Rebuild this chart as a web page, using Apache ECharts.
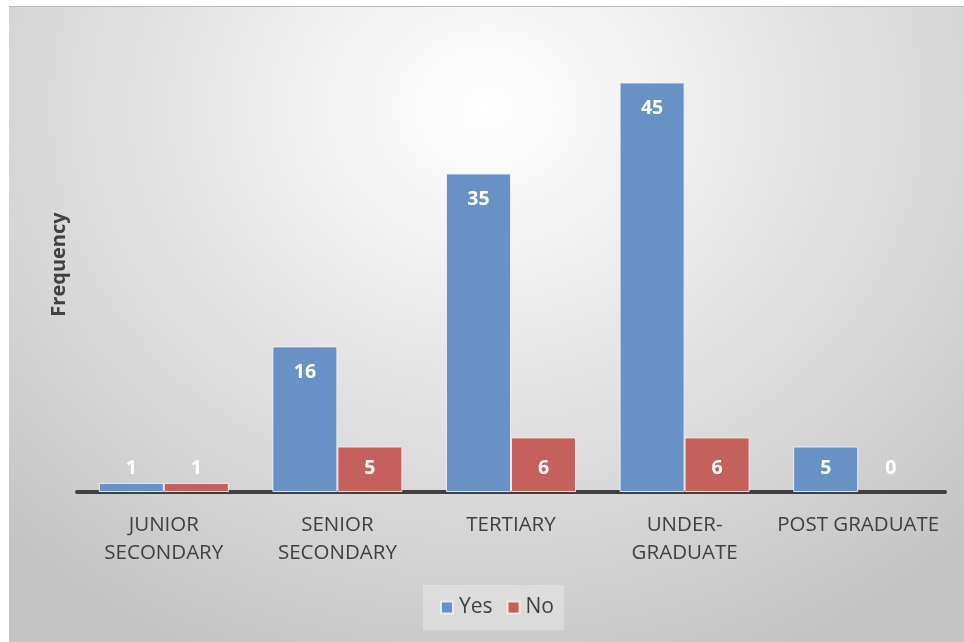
<!DOCTYPE html>
<html>
<head>
<meta charset="utf-8">
<script src="https://cdn.jsdelivr.net/npm/echarts@6/dist/echarts.min.js"></script>
<style>
  html, body { margin: 0; padding: 0; background: #ffffff; }
  #chart {
    position: absolute;
    left: 9px; top: 6px;
    width: 955px; height: 636px;
    border-top: 1px solid #bcbcbc;
    box-sizing: border-box;
    background: radial-gradient(ellipse 72% 95% at 50% 16%, #ffffff 0%, #f3f3f3 22%, #dcdcdc 60%, #c4c4c4 100%);
  }
</style>
</head>
<body>
<div id="chart"></div>
<script>
// Education level vs. response counts
const categories = ['JUNIOR\nSECONDARY', 'SENIOR\nSECONDARY', 'TERTIARY', 'UNDER-\nGRADUATE', 'POST GRADUATE'];
const yesValues = [1, 16, 35, 45, 5];
const noValues = [1, 5, 6, 6, 0];

const FONT = '"Open Sans", Lato, sans-serif';

// Short bars keep their value label near the baseline, tall bars inside the top;
// an empty bar gets no outline so nothing is drawn on the axis
function withLabels(values) {
  return values.map(v => ({
    value: v,
    itemStyle: v === 0 ? { borderWidth: 0 } : undefined,
    label: v < 7
      ? { position: 'insideBottom', distance: 14 }
      : { position: 'insideTop', distance: 16 }
  }));
}

const chart = echarts.init(document.getElementById('chart'), null, { renderer: 'canvas' });

chart.setOption({
  backgroundColor: 'transparent',
  animation: false,
  textStyle: { fontFamily: FONT },
  grid: { left: 68, right: 19, top: 30, bottom: 150, containLabel: false },
  legend: {
    data: ['Yes', 'No'],
    left: 414,
    top: 578,
    itemWidth: 12,
    itemHeight: 12,
    itemGap: 14,
    icon: 'rect',
    padding: [12, 10, 12, 17],
    backgroundColor: 'rgba(255,255,255,0.28)',
    textStyle: { fontFamily: FONT, fontSize: 21, color: '#404040', padding: [0, 0, 0, 1] }
  },
  xAxis: {
    type: 'category',
    data: categories,
    axisLine: { show: true, lineStyle: { color: '#404040', width: 4 } },
    axisTick: { show: false },
    axisLabel: {
      interval: 0,
      margin: 19,
      fontFamily: FONT,
      fontSize: 20.5,
      lineHeight: 28,
      color: '#404040'
    }
  },
  yAxis: {
    type: 'value',
    min: 0,
    max: 50,
    interval: 10,
    name: 'Frequency',
    nameLocation: 'middle',
    nameGap: 8,
    nameRotate: 90,
    nameTextStyle: { fontFamily: FONT, fontSize: 20, fontWeight: 'bold', color: '#404040' },
    axisLine: { show: false },
    axisTick: { show: false },
    axisLabel: { show: false },
    splitLine: { show: false }
  },
  series: [
    {
      name: 'Yes',
      type: 'bar',
      data: withLabels(yesValues),
      barWidth: 65,
      barGap: '0%',
      itemStyle: { color: '#6891c6', borderColor: 'rgba(235,242,252,0.9)', borderWidth: 1 },
      label: { show: true, color: '#ffffff', fontFamily: FONT, fontSize: 19.5, fontWeight: 'bold' }
    },
    {
      name: 'No',
      type: 'bar',
      data: withLabels(noValues),
      barWidth: 65,
      barGap: '0%',
      itemStyle: { color: '#c4615d', borderColor: 'rgba(252,235,235,0.9)', borderWidth: 1 },
      label: { show: true, color: '#ffffff', fontFamily: FONT, fontSize: 19.5, fontWeight: 'bold' }
    }
  ]
});
</script>
</body>
</html>
